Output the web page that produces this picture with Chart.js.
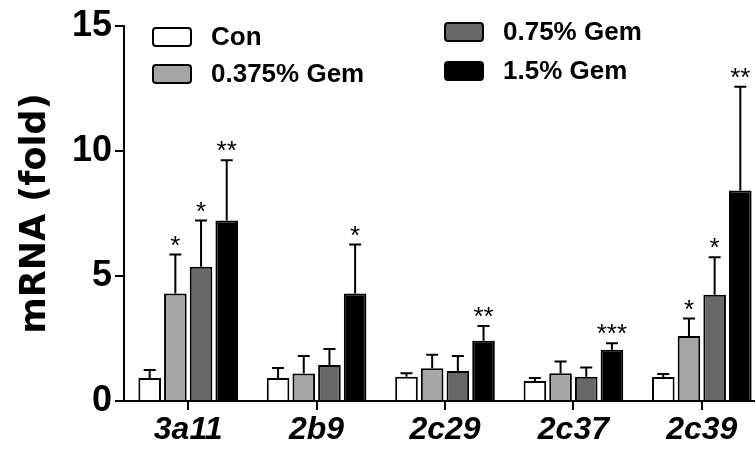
<!DOCTYPE html>
<html>
<head>
<meta charset="utf-8">
<script src="https://cdn.jsdelivr.net/npm/chart.js@4.4.1/dist/chart.umd.min.js"></script>
<style>
  html, body { margin: 0; padding: 0; background: #fff; overflow: hidden; }
  #wrap { width: 770px; height: 454px; }
</style>
</head>
<body>
<div id="wrap"><canvas id="myChart" width="770" height="454"></canvas></div>
<script>
/* globals Chart:false */

// Data
const genes = ['3a11', '2b9', '2c29', '2c37', '2c39']
const groups = ['Con', '0.375% Gem', '0.75% Gem', '1.5% Gem']
const yTicks = [0, 5, 10, 15]

const con = [0.92, 0.92, 0.97, 0.80, 0.96]
const gem0375 = [4.30, 1.10, 1.31, 1.11, 2.60]
const gem075 = [5.37, 1.44, 1.20, 0.97, 4.25]
const gem15 = [7.22, 4.30, 2.41, 2.05, 8.42]

// upper error (SD)
const conErr = [0.32, 0.40, 0.14, 0.12, 0.12]
const gem0375Err = [1.56, 0.70, 0.54, 0.47, 0.70]
const gem075Err = [1.85, 0.64, 0.60, 0.37, 1.50]
const gem15Err = [2.41, 1.96, 0.59, 0.26, 4.15]

const conStars = ['', '', '', '', '']
const gem0375Stars = ['*', '', '', '', '*']
const gem075Stars = ['*', '', '', '', '*']
const gem15Stars = ['**', '*', '**', '***', '**']

const fills = ['#ffffff', '#a5a5a8', '#686868', '#000000']
const FONT = '"Liberation Sans", Arial, sans-serif'

;(() => {
  'use strict'

  const ctx = document.getElementById('myChart')

  const errorBars = {
    id: 'errorBars',
    afterDatasetsDraw (chart) {
      const c = chart.ctx
      const y = chart.scales.y
      c.save()
      c.strokeStyle = '#000'
      c.fillStyle = '#000'
      c.lineWidth = 2
      chart.data.datasets.forEach((ds, i) => {
        chart.getDatasetMeta(i).data.forEach((bar, j) => {
          const top = y.getPixelForValue(ds.data[j] + ds.err[j])
          c.beginPath()
          c.moveTo(bar.x, bar.y)
          c.lineTo(bar.x, top)
          c.moveTo(bar.x - 6, top)
          c.lineTo(bar.x + 6, top)
          c.stroke()
          if (ds.stars[j]) {
            c.font = '26px ' + FONT
            c.textAlign = 'center'
            c.textBaseline = 'alphabetic'
            c.fillText(ds.stars[j], bar.x, top - 1)
          }
        })
      })
      c.restore()
    }
  }

  // two-column legend, column-first like the figure
  const boxSpots = [[153, 28], [153, 65], [445, 23], [445, 62]]
  const legend2col = {
    id: 'legend2col',
    afterDraw (chart) {
      const c = chart.ctx
      c.save()
      c.font = 'bold 26px ' + FONT
      c.textAlign = 'left'
      c.textBaseline = 'middle'
      chart.data.datasets.forEach((ds, i) => {
        const [bx, by] = boxSpots[i]
        c.beginPath()
        c.roundRect(bx, by, 38, 18, 3)
        c.fillStyle = ds.backgroundColor
        c.fill()
        c.lineWidth = 2
        c.strokeStyle = '#000'
        c.stroke()
        c.fillStyle = '#000'
        c.fillText(ds.label, bx + 58, by + 10)
      })
      c.restore()
    }
  }

  const values = [con, gem0375, gem075, gem15]
  const errs = [conErr, gem0375Err, gem075Err, gem15Err]
  const stars = [conStars, gem0375Stars, gem075Stars, gem15Stars]

  // eslint-disable-next-line no-unused-vars
  const myChart = new Chart(ctx, {
    type: 'bar',
    data: {
      labels: genes,
      datasets: groups.map((g, i) => ({
        label: g,
        data: values[i],
        err: errs[i],
        stars: stars[i],
        backgroundColor: fills[i],
        borderColor: '#000',
        borderWidth: 2,
        categoryPercentage: 0.8,
        barPercentage: 0.88
      }))
    },
    options: {
      responsive: false,
      animation: false,
      layout: { padding: { top: 26, right: 4, left: 0, bottom: 0 } },
      plugins: {
        legend: { display: false },
        tooltip: { enabled: false }
      },
      scales: {
        x: {
          z: 1,
          offset: true,
          grid: {
            offset: false,
            drawOnChartArea: false,
            tickLength: 9,
            color: '#000',
            lineWidth: 2
          },
          border: { color: '#000', width: 2 },
          ticks: {
            color: '#000',
            padding: 4,
            font: { family: FONT, size: 32, weight: 'bold', style: 'italic', lineHeight: 1 }
          },
          afterFit: (scale) => { scale.height = 53 }
        },
        y: {
          min: 0,
          max: 15,
          afterBuildTicks: (scale) => { scale.ticks = yTicks.map(v => ({ value: v })) },
          grid: {
            drawOnChartArea: false,
            tickLength: 9,
            color: '#000',
            lineWidth: 2
          },
          border: { color: '#000', width: 2 },
          ticks: {
            color: '#000',
            padding: 3,
            font: { family: FONT, size: 36, weight: 'bold', lineHeight: 1 }
          },
          title: {
            display: true,
            text: 'mRNA (fold)',
            color: '#000',
            padding: { top: 18, bottom: 0 },
            font: { family: '"DejaVu Sans", sans-serif', size: 35, weight: 'bold', lineHeight: 1 }
          },
          afterFit: (scale) => { scale.width = 124 }
        }
      }
    },
    plugins: [errorBars, legend2col]
  })
})()
</script>
</body>
</html>
